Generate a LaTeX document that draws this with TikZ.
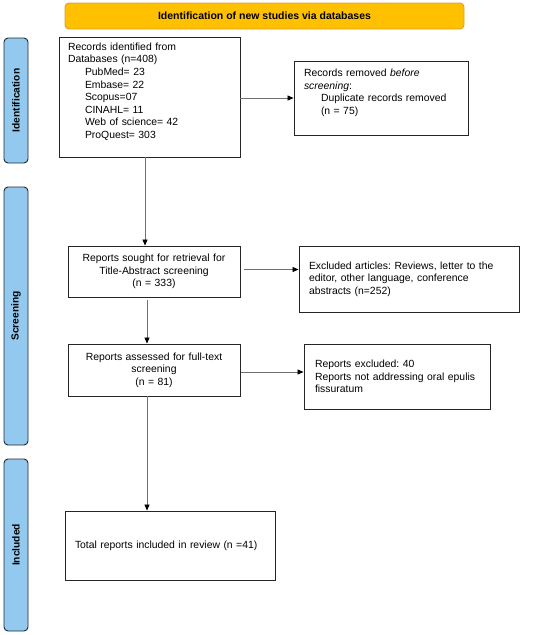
\documentclass[tikz,border=0pt]{standalone}
\usepackage{fontspec}
\setmainfont{Liberation Sans}
\usetikzlibrary{arrows.meta}
\frenchspacing
\definecolor{bannerfill}{HTML}{FFC000}
\definecolor{bannerdraw}{HTML}{D9A02A}
\definecolor{sidefill}{HTML}{93C9EE}
\definecolor{sidedraw}{HTML}{1E2A36}
\definecolor{linegray}{HTML}{707070}
\begin{document}
\begin{tikzpicture}[x=1pt,y=-1pt,
  box/.style={draw=black!85, line width=0.9pt, fill=white, inner xsep=9pt, inner ysep=3pt,
    font=\fontsize{10.4}{12.6}\selectfont, align=left},
  cbox/.style={box, align=center},
  side/.style={draw=sidedraw, line width=0.9pt, fill=sidefill, rounded corners=4pt,
    minimum width=24pt, inner sep=0pt},
  sidetext/.style={font=\bfseries\fontsize{10.2}{12}\selectfont, rotate=90},
  banner/.style={draw=bannerdraw, line width=0.9pt, fill=bannerfill, rounded corners=4pt,
    font=\bfseries\fontsize{10.5}{12}\selectfont, inner sep=0pt},
  conn/.style={draw=linegray, line width=0.8pt, -{Triangle[length=6pt,width=5pt,fill=black,color=black]}}
]
\useasboundingbox (0,0) rectangle (550,635);

% banner
\node[banner, minimum width=399pt, minimum height=26pt] (ban) at (264.5,16) {Identification of new studies via databases};

% side bars
\node[side, minimum height=125pt] (sid) at (16,100.5) {};
\node[sidetext] (sidT) at (sid.center) {Identification};
\node[side, minimum height=258pt] (sscr) at (16,316) {};
\node[sidetext] (sscrT) at (sscr.center) {Screening};
\node[side, minimum height=172pt] (sinc) at (16,545) {};
\node[sidetext] (sincT) at (sinc.center) {Included};

% boxes
\node[box, minimum width=181pt, minimum height=120pt, text width=163pt] (rec) at (149.5,97)
 {Records identified from\\Databases (n=408)\\
 \hspace*{17pt}PubMed= 23\\
 \hspace*{17pt}Embase= 22\\
 \hspace*{17pt}Scopus=07\\
 \hspace*{17pt}CINAHL= 11\\
 \hspace*{17pt}Web of science= 42\\
 \hspace*{17pt}ProQuest= 303\\ \mbox{}};

\node[box, minimum width=174pt, minimum height=74pt, text width=154pt, inner xsep=10pt] (rem) at (381,98)
 {Records removed \textit{before}\\\textit{screening}:\\
 \hspace*{17pt}Duplicate records removed\\
 \hspace*{17pt}(n = 75)\\ \mbox{}};

\node[cbox, minimum width=172pt, minimum height=51pt, text width=154pt] (sou) at (154,271.5)
 {Reports sought for retrieval for\\Title-Abstract screening\\(n = 333)};

\node[box, minimum width=220pt, minimum height=66pt, text width=200pt, inner xsep=10pt] (exc) at (409,279)
 {Excluded articles: Reviews, letter to the\\editor, other language, conference\\abstracts (n=252)};

\node[cbox, minimum width=172pt, minimum height=52pt, text width=154pt] (ass) at (154,370)
 {Reports assessed for full-text\\screening\\(n = 81)};

\node[box, minimum width=186pt, minimum height=65pt, text width=164pt, inner xsep=11pt] (rex) at (397,376.5)
 {Reports excluded: 40\\Reports not addressing oral epulis\\fissuratum};

\node[box, minimum width=210pt, minimum height=69pt, text width=190pt, inner xsep=10pt] (fin) at (170,545.5)
 {Total reports included in review (n =41)};

% connectors
\coordinate (spine) at (145,0);
\coordinate (spineB) at (147,0);
\draw[conn] (rec.south -| spine) -- (sou.north -| spine);
\draw[conn] (sou.south -| spineB) ++(0,3) -- (ass.north -| spineB);
\draw[conn] (ass.south -| spineB) -- (fin.north -| spineB);
\draw[conn] (rec.east |- rem.west) -- (rem.west);
\draw[conn] (sou.east) ++(4,-2) -- (exc.west |- 0,269.5);
\draw[conn] (ass.east) ++(1,2) -- (rex.west |- 0,372);
\end{tikzpicture}
\end{document}
